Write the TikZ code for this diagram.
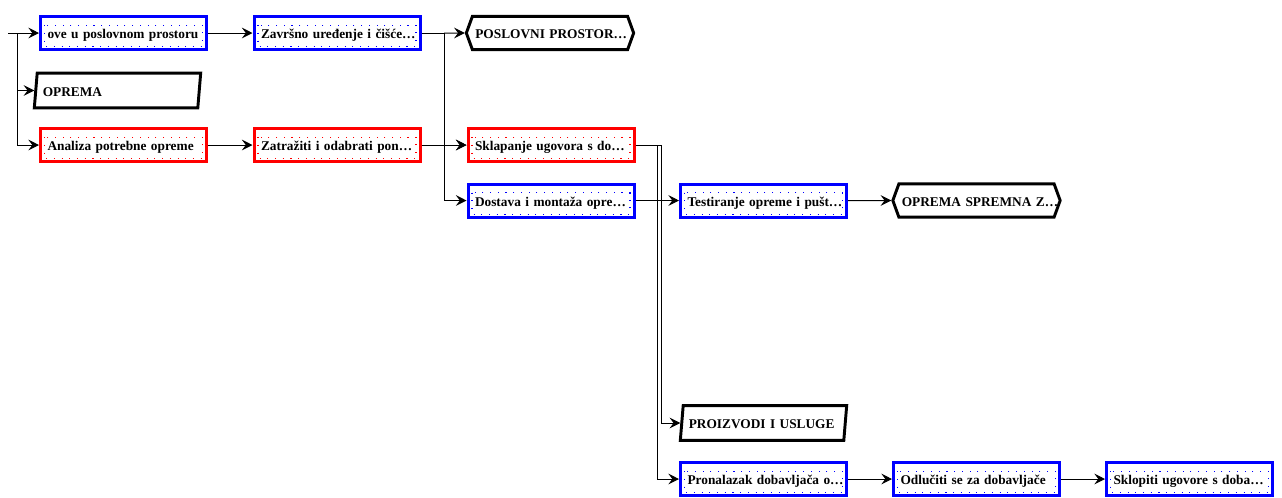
\documentclass[tikz,border=0pt]{standalone}
\usepackage{fontspec}
\setmainfont{Liberation Serif}
\usetikzlibrary{arrows.meta,shapes.geometric,shapes.symbols}

\begin{document}
\begin{tikzpicture}[x=0.75pt, y=-0.75pt]
    \tikzset{oneline/.style={text width=#1, align=left, execute at begin node={\hbox\bgroup},
        execute at end node={\egroup}, font=\bfseries\fontsize{10}{12}\selectfont,
        text height=9.5pt, text depth=1pt},
      task/.style={draw, rectangle, line width=2.25pt, minimum width=124.5pt, minimum height=24.75pt,
        inner sep=0pt, oneline=114pt, fill=white},
      dotsin/.style={path picture={\draw[#1, line width=0.8pt, dash pattern=on 0.8pt off 5pt]
        ([shift={(3pt,-6.5pt)}]path picture bounding box.north west) rectangle
        ([shift={(-3pt,2pt)}]path picture bounding box.south east);}},
      taskblue/.style={task, draw=blue, dotsin=blue},
      taskred/.style={task, draw=red, dotsin=red},
      milestone/.style={draw, signal, signal to=west and east, signal pointer angle=140,
        line width=2.2pt, minimum width=125.5pt, minimum height=25pt, inner xsep=1pt, inner ysep=0pt,
        oneline=112pt},
      resource/.style={draw, trapezium, trapezium left angle=79, trapezium right angle=101,
        trapezium stretches=true, line width=2.2pt, minimum width=125pt, minimum height=26pt,
        inner xsep=1pt, inner ysep=0pt, oneline=112pt},
      conn/.style={->, >={Stealth[length=8pt, width=8pt, inset=3pt]}, line width=0.75pt}}
    \useasboundingbox (0,0) rectangle (1282,497);

    \node[taskblue] at (123.5,33) (t_1) {ove u poslovnom prostoru};
    \node[taskblue] at (337,33) (t_2) {Završno uređenje i čišće…};
    \node[milestone] at (550,33) (m_1) {POSLOVNI PROSTOR…};
    \node[resource] at (117.5,90.5) (r_1) {OPREMA};
    \node[taskred] at (123.5,145) (t_3) {Analiza potrebne opreme};
    \node[taskred] at (337,145) (t_4) {Zatražiti i odabrati pon…};
    \node[taskred] at (551,145) (t_5) {Sklapanje ugovora s do…};
    \node[taskblue] at (551,200.5) (t_6) {Dostava i montaža opre…};
    \node[taskblue] at (763.5,200.5) (t_7) {Testiranje opreme i pušt…};
    \node[milestone] at (976.5,200.5) (m_2) {OPREMA SPREMNA Z…};
    \node[resource] at (763.5,423) (r_2) {PROIZVODI I USLUGE};
    \node[taskblue] at (763.5,479) (t_8) {Pronalazak dobavljača o…};
    \node[taskblue] at (976.5,479) (t_9) {Odlučiti se za dobavljače};
    \node[taskblue] at (1189.5,479) (t_10) {Sklopiti ugovore s doba…};

    \coordinate (in) at (8,33);
    \coordinate (fork_1) at (17,33);
    \coordinate (fork_2) at (444,33);
    \coordinate (fork_3) at (657,145);
    \coordinate (fork_4) at (661,145);

    \draw[line width=0.75pt] (in) -- (fork_1);
    \draw[conn] (fork_1) -- (t_1);
    \draw[conn] (fork_1) |- (r_1.west);
    \draw[conn] (fork_1) |- (t_3.west);
    \path[conn] (t_1) edge (t_2);
    \path[conn] (t_3) edge (t_4);
    \draw[line width=0.75pt] (t_2) -- (fork_2);
    \draw[conn] (fork_2) -- (m_1);
    \draw[conn] (fork_2) |- (t_5.west);
    \draw[conn] (fork_2) |- (t_6.west);
    \path[conn] (t_4) edge (t_5);
    \draw[conn] (t_5.east) -- (fork_3) |- (t_8.west);
    \draw[conn] (t_5.east) -- (fork_4) |- (r_2.west);
    \path[conn] (t_6) edge (t_7);
    \path[conn] (t_7) edge (m_2);
    \path[conn] (t_8) edge (t_9);
    \path[conn] (t_9) edge (t_10);
\end{tikzpicture}
\end{document}
